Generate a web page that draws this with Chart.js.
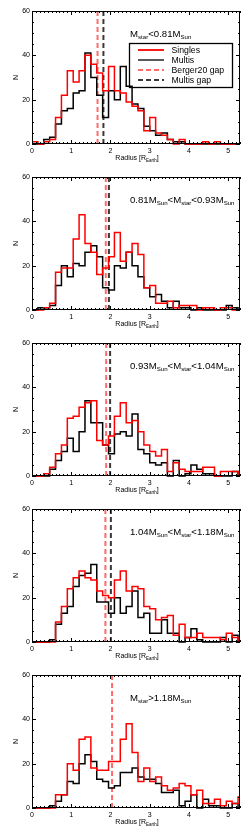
<!DOCTYPE html>
<html>
<head>
<meta charset="utf-8">
<script src="https://cdn.jsdelivr.net/npm/chart.js@4.4.1/dist/chart.umd.min.js"></script>
<style>
  html, body { margin: 0; padding: 0; background: #fff; }
  canvas { display: block; }
</style>
</head>
<body>
<div id="panels"></div>
<script>
// ============================================================================
// Data: histogram counts per 0.15 R_Earth bin (bin 0 starts at 0)
// ============================================================================
const BIN_WIDTH = 0.15;

const singles1 = [1,0,1,2,12, 22,33,28,33,40, 36,32,24,35,24, 23,19,17,15,6, 12,5,4,2,0, 2,0,0,0,1, 0,1,0,0,0, 0];
const multis1  = [0,0,2,3,9, 15,16,23,24,41, 30,22,12,24,20, 35,26,18,16,8, 6,4,5,2,1, 1,0,0,0,0, 0,0,0,0,0, 0];

const singles2 = [0,0,1,3,17, 19,19,32,43,30, 26,16,19,24,35, 22,26,30,25,10, 11,3,3,4,1, 2,2,2,0,1, 1,0,1,1,0, 0];
const multis2  = [0,1,1,2,11, 20,15,21,20,26, 29,24,10,9,20, 19,26,20,15,10, 6,7,4,1,4, 1,1,0,1,0, 0,0,0,2,1, 0];

const singles3 = [0,0,1,4,10, 14,26,27,31,33, 34,16,14,18,27, 33,24,25,20,14, 11,9,12,2,6, 3,2,2,2,4, 4,0,2,2,2, 0];
const multis3  = [0,0,0,3,7, 11,17,11,20,34, 24,24,14,10,19, 20,18,28,12,10, 6,5,6,0,7, 0,1,5,3,1, 1,0,0,0,2, 0];

const singles4 = [0,0,0,0,9, 16,24,29,32,29, 28,23,21,20,28, 32,23,25,24,16, 15,10,11,12,3, 8,2,2,4,2, 2,2,1,4,2, 0];
const multis4  = [0,0,0,1,8, 13,16,25,30,31, 35,18,18,13,20, 13,16,23,11,13, 4,4,10,4,4, 0,2,6,1,0, 0,0,2,0,3, 0];

const singles5 = [0,0,0,0,6, 6,20,17,31,32, 18,17,17,21,21, 31,38,25,12,18, 12,14,10,8,9, 11,10,6,8,2, 2,4,1,3,2, 5];
const multis5  = [0,0,0,1,3, 6,12,11,20,24, 21,13,12,9,10, 16,16,18,14,13, 13,11,7,7,8, 1,3,6,0,4, 1,1,0,0,2, 0];

// Radius gap positions (Berger20 and multis), one per mass bin
const bergerGaps = [1.67, 1.88, 1.89, 1.87, 2.04];
const multisGaps = [1.82, 1.96, 1.99, 2.01, null];

// Panel labels as [text, isSubscript] pieces
const panelLabels = [
    [['M', 0], ['star', 1], ['<0.81M', 0], ['Sun', 1]],
    [['0.81M', 0], ['Sun', 1], ['<M', 0], ['star', 1], ['<0.93M', 0], ['Sun', 1]],
    [['0.93M', 0], ['Sun', 1], ['<M', 0], ['star', 1], ['<1.04M', 0], ['Sun', 1]],
    [['1.04M', 0], ['Sun', 1], ['<M', 0], ['star', 1], ['<1.18M', 0], ['Sun', 1]],
    [['M', 0], ['star', 1], ['>1.18M', 0], ['Sun', 1]]
];

const xTicks = [0, 1, 2, 3, 4, 5];
const yTicks = [0, 20, 40, 60];
const xTitle = [['Radius [R', 0], ['Earth', 1], [']', 0]];
const yTitle = 'N';
const legendLabels = ['Singles', 'Multis', 'Berger20 gap', 'Multis gap'];

const singlesAll = [singles1, singles2, singles3, singles4, singles5];
const multisAll = [multis1, multis2, multis3, multis4, multis5];

// ============================================================================
// Styling
// ============================================================================
const FONT = '"Liberation Sans", Arial, sans-serif';
const colors = {
    singles: '#ff0000',
    multis: '#000000',
    bergerGap: '#ff6a6a',
    multisGap: '#3a3a3a'
};

// Turn counts into step points at bin edges
function toSteps(counts) {
    const pts = counts.map((v, i) => ({ x: i * BIN_WIDTH, y: v }));
    pts.push({ x: counts.length * BIN_WIDTH, y: counts[counts.length - 1] });
    return pts;
}

function drawRich(ctx, parts, x, y, size) {
    parts.forEach(([t, sub]) => {
        const s = sub ? size * 0.64 : size;
        ctx.font = s + 'px ' + FONT;
        ctx.fillText(t, x, sub ? y + size * 0.24 : y);
        x += ctx.measureText(t).width;
    });
    return x;
}

function richWidth(ctx, parts, size) {
    let w = 0;
    parts.forEach(([t, sub]) => {
        ctx.font = (sub ? size * 0.64 : size) + 'px ' + FONT;
        w += ctx.measureText(t).width;
    });
    return w;
}

// Frame, inward IDL-style ticks, labels and legend
const axesPlugin = {
    id: 'idlAxes',
    afterDraw(chart) {
        const { ctx, chartArea: a, scales } = chart;
        const xs = scales.x, ys = scales.y;
        const idx = chart.options.panelIndex;
        ctx.save();
        ctx.strokeStyle = '#000';
        ctx.lineWidth = 1;
        ctx.strokeRect(a.left + 0.5, a.top + 0.5, a.right - a.left - 1, a.bottom - a.top - 1);

        // x ticks (minor every 0.1, major on integers)
        ctx.beginPath();
        for (let k = 0; k <= 53; k++) {
            const v = k / 10;
            const px = Math.round(xs.getPixelForValue(v)) + 0.5;
            const len = (k % 10 === 0) ? 4 : 2;
            ctx.moveTo(px, a.bottom); ctx.lineTo(px, a.bottom - len);
            ctx.moveTo(px, a.top); ctx.lineTo(px, a.top + len);
        }
        // y ticks (minor every 5)
        for (let v = 0; v <= 60; v += 5) {
            const py = Math.round(ys.getPixelForValue(v)) + 0.5;
            const len = (v % 20 === 0) ? 4 : 2;
            ctx.moveTo(a.left, py); ctx.lineTo(a.left + len, py);
            ctx.moveTo(a.right, py); ctx.lineTo(a.right - len, py);
        }
        ctx.stroke();

        ctx.fillStyle = '#000';
        ctx.font = '7px ' + FONT;
        ctx.textAlign = 'center';
        ctx.textBaseline = 'alphabetic';
        xTicks.forEach(v => ctx.fillText(String(v), xs.getPixelForValue(v), a.bottom + 9));
        ctx.textAlign = 'right';
        ctx.textBaseline = 'middle';
        yTicks.forEach(v => ctx.fillText(String(v), a.left - 2, ys.getPixelForValue(v)));

        // axis titles
        ctx.textAlign = 'left';
        ctx.textBaseline = 'alphabetic';
        const tw = richWidth(ctx, xTitle, 7);
        drawRich(ctx, xTitle, (a.left + a.right) / 2 - tw / 2 + 1, a.bottom + 16, 7);
        ctx.save();
        ctx.translate(18, (a.top + a.bottom) / 2);
        ctx.rotate(-Math.PI / 2);
        ctx.font = '7px ' + FONT;
        ctx.textAlign = 'center';
        ctx.fillText(yTitle, 0, 0);
        ctx.restore();

        // panel label
        ctx.textAlign = 'left';
        drawRich(ctx, panelLabels[idx], 130, 36.5, 9.6);

        // legend in first panel
        if (idx === 0) {
            ctx.lineWidth = 1.3;
            ctx.strokeStyle = '#000';
            ctx.strokeRect(129.5, 43.5, 103, 44);
            const styles = [
                [colors.singles, [], 1.8],
                [colors.multis, [], 1.3],
                [colors.bergerGap, [5, 3], 2],
                [colors.multisGap, [5, 3], 2]
            ];
            legendLabels.forEach((lab, i) => {
                const y = 50 + i * 10;
                ctx.beginPath();
                ctx.strokeStyle = styles[i][0];
                ctx.setLineDash(styles[i][1]);
                ctx.lineWidth = styles[i][2];
                ctx.moveTo(138, y); ctx.lineTo(164, y);
                ctx.stroke();
                ctx.setLineDash([]);
                ctx.fillStyle = '#000';
                ctx.font = '8.7px ' + FONT;
                ctx.textBaseline = 'middle';
                ctx.fillText(lab, 171.5, y + 0.5);
            });
        }
        ctx.restore();
    }
};

// ============================================================================
// Build panels
// ============================================================================
const holder = document.getElementById('panels');

for (let p = 0; p < 5; p++) {
    const canvas = document.createElement('canvas');
    canvas.width = 249;
    canvas.height = 166;
    canvas.style.width = '249px';
    canvas.style.height = '166px';
    holder.appendChild(canvas);

    const datasets = [
        {
            data: toSteps(singlesAll[p]),
            borderColor: colors.singles,
            borderWidth: 1.5,
            stepped: true,
            pointRadius: 0,
            clip: { left: 0, top: 0, right: 0, bottom: 1 }
        },
        {
            data: toSteps(multisAll[p]),
            borderColor: colors.multis,
            borderWidth: 1.5,
            stepped: true,
            pointRadius: 0,
            clip: { left: 0, top: 0, right: 0, bottom: 1 }
        },
        {
            data: [{ x: bergerGaps[p], y: 60 }, { x: bergerGaps[p], y: 0 }],
            borderColor: colors.bergerGap,
            borderWidth: 2,
            borderDash: [5, 3],
            pointRadius: 0
        }
    ];
    if (multisGaps[p] !== null) {
        datasets.push({
            data: [{ x: multisGaps[p], y: 60 }, { x: multisGaps[p], y: 0 }],
            borderColor: colors.multisGap,
            borderWidth: 2,
            borderDash: [5, 3],
            pointRadius: 0
        });
    }

    new Chart(canvas, {
        type: 'line',
        data: { datasets: datasets },
        options: {
            panelIndex: p,
            responsive: false,
            animation: false,
            devicePixelRatio: 1,
            layout: { padding: { left: 32, right: 9, top: 11, bottom: 22 } },
            scales: {
                x: { type: 'linear', min: 0, max: 5.3, display: false },
                y: { type: 'linear', min: 0, max: 60, display: false }
            },
            plugins: {
                legend: { display: false },
                tooltip: { enabled: false }
            }
        },
        plugins: [axesPlugin]
    });
}
</script>
</body>
</html>
